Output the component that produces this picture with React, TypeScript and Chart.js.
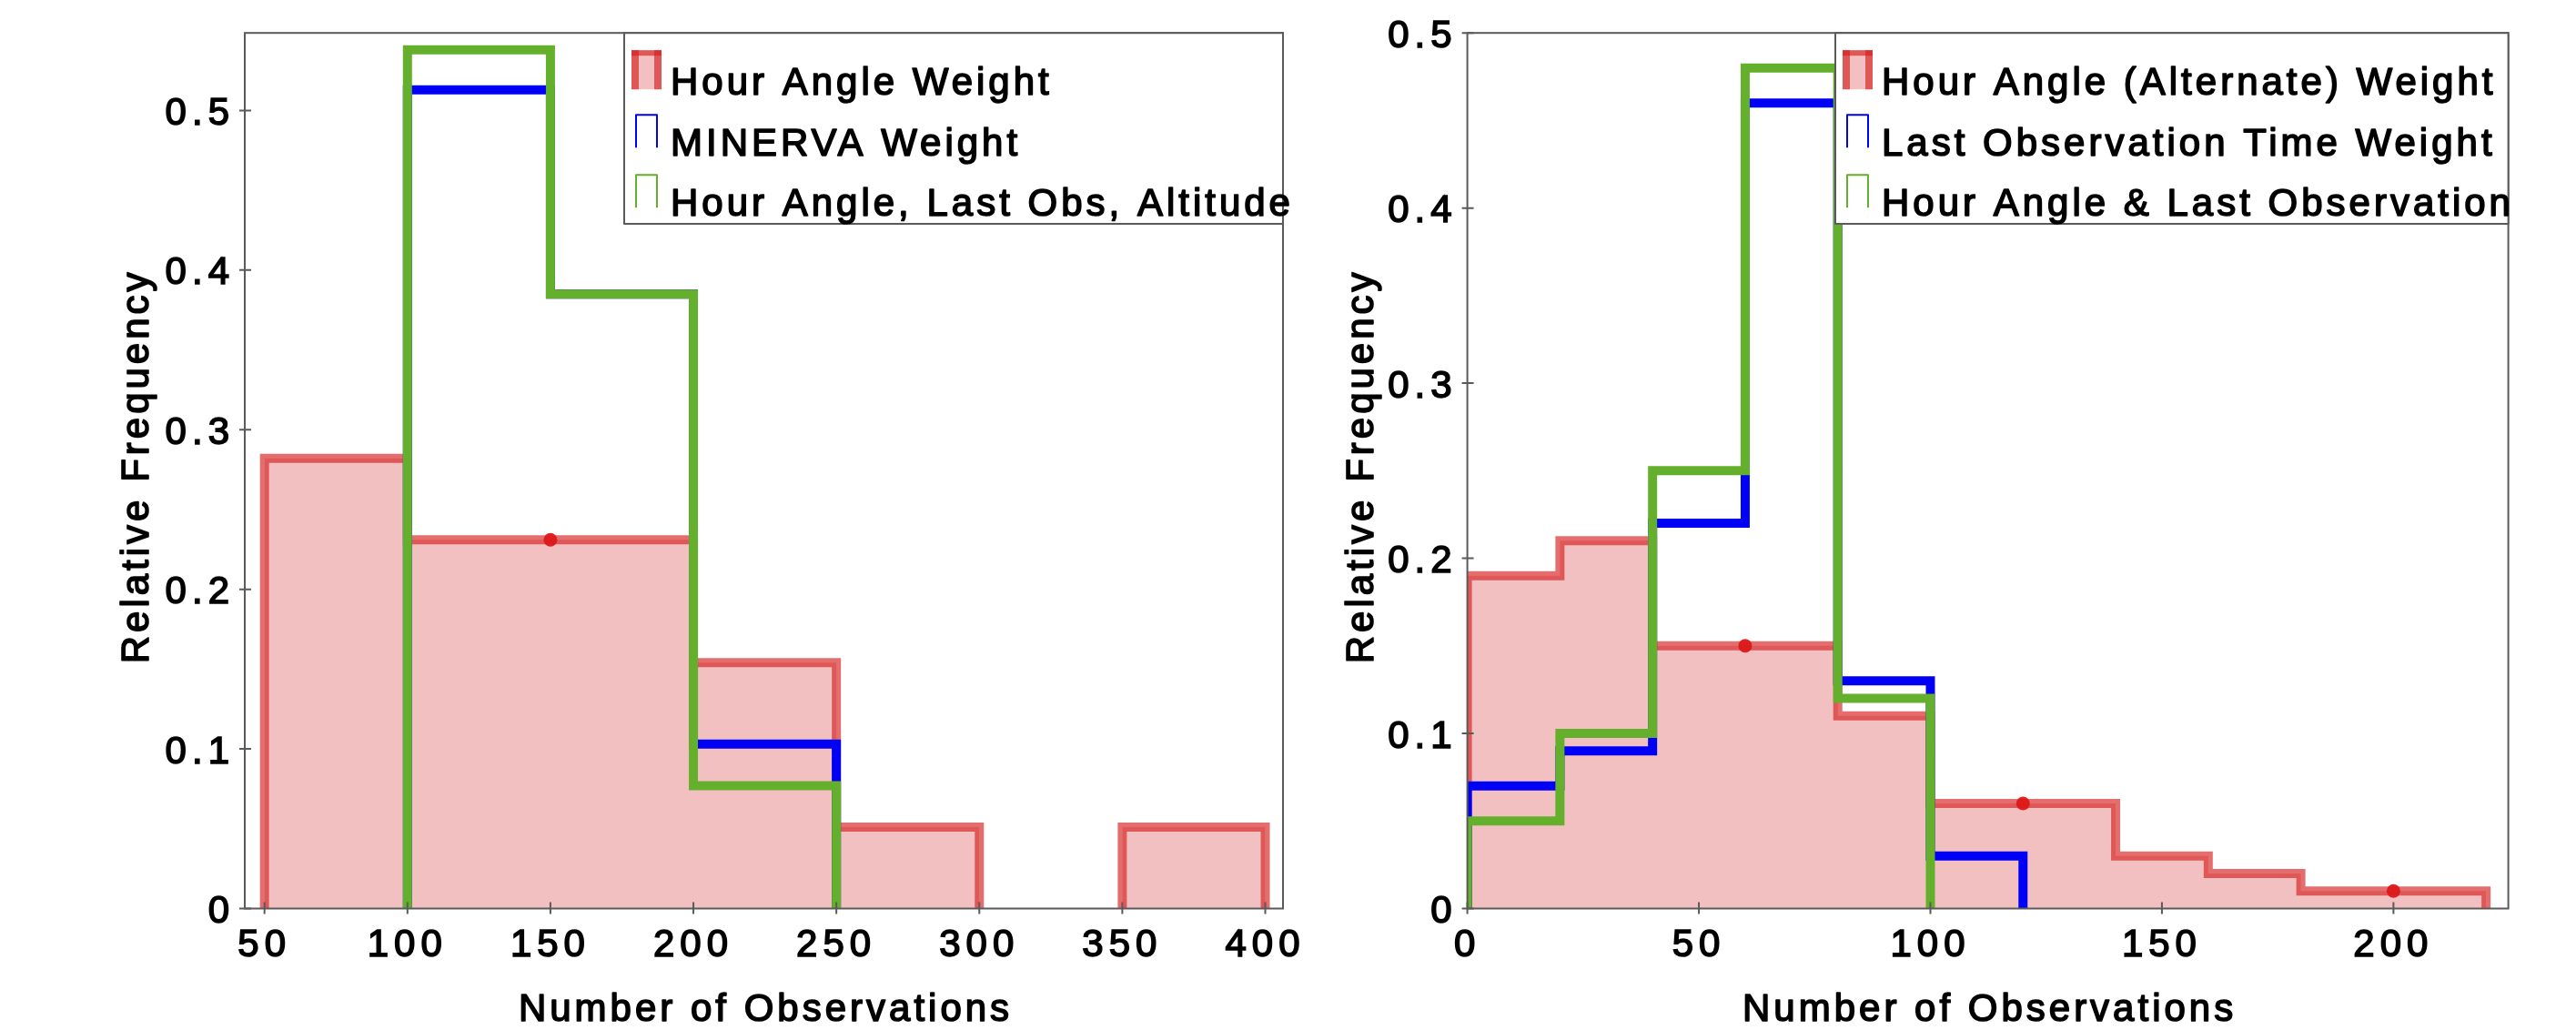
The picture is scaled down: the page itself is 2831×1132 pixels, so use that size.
import { useEffect, useRef } from 'react';
import { Chart, registerables } from 'chart.js';

Chart.register(...registerables);

const FONT = '"Liberation Sans", Arial, Helvetica, sans-serif';

// ---------- shared text ----------
const X_TITLE = 'Number of Observations';
const Y_TITLE = 'Relative Frequency';

// ---------- left panel data ----------
const LEFT_X_TICKS = [50, 100, 150, 200, 250, 300, 350, 400];
const LEFT_Y_TICKS = [0, 0.1, 0.2, 0.3, 0.4, 0.5];
const LEFT_HA_EDGES = [50, 100, 150, 200, 250, 300, 350, 400];
const LEFT_HA_VALUES = [0.282, 0.231, 0.231, 0.154, 0.051, 0, 0.051];
const LEFT_MINERVA_EDGES = [100, 150, 200, 250];
const LEFT_MINERVA_VALUES = [0.513, 0.385, 0.103];
const LEFT_COMBO_EDGES = [100, 150, 200, 250];
const LEFT_COMBO_VALUES = [0.538, 0.385, 0.077];
const LEFT_MARKER_X = [150];
const LEFT_MARKER_Y = [0.231];
const LEFT_LEGEND = ['Hour Angle Weight', 'MINERVA Weight', 'Hour Angle, Last Obs, Altitude'];

// ---------- right panel data ----------
const RIGHT_X_TICKS = [0, 50, 100, 150, 200];
const RIGHT_Y_TICKS = [0, 0.1, 0.2, 0.3, 0.4, 0.5];
const RIGHT_HA_EDGES = [0, 20, 40, 60, 80, 100, 120, 140, 160, 180, 200, 220];
const RIGHT_HA_VALUES = [0.19, 0.21, 0.15, 0.15, 0.11, 0.06, 0.06, 0.03, 0.02, 0.01, 0.01];
const RIGHT_LAST_EDGES = [0, 20, 40, 60, 80, 100, 120];
const RIGHT_LAST_VALUES = [0.07, 0.09, 0.22, 0.46, 0.13, 0.03];
const RIGHT_COMBO_EDGES = [0, 20, 40, 60, 80, 100];
const RIGHT_COMBO_VALUES = [0.05, 0.1, 0.25, 0.48, 0.12];
const RIGHT_MARKER_X = [60, 120, 200];
const RIGHT_MARKER_Y = [0.15, 0.06, 0.01];
const RIGHT_LEGEND = ['Hour Angle (Alternate) Weight', 'Last Observation Time Weight', 'Hour Angle & Last Observation'];

// ---------- styles ----------
const RED_LINE = 'rgba(212,28,28,0.64)';
const RED_FILL = 'rgba(210,30,30,0.28)';
const MARKER = 'rgba(220,25,25,0.95)';
const BLUE = '#0000f5';
const GREEN = '#64af2b';
const AXIS = '#5a5a5a';
const TEXT_STROKE = 1.6;

type Panel = {
  canvasLeft: number; width: number; height: number;
  plotLeft: number; plotRight: number; plotTop: number; plotBottom: number;
  xMin: number; xMax: number; yMax: number;
  xTicks: number[]; yTicks: number[];
  haEdges: number[]; haValues: number[];
  secEdges: number[]; secValues: number[];
  comboEdges: number[]; comboValues: number[];
  markerX: number[]; markerY: number[];
  legend: string[];
  legendLeft: number; legendBottom: number;
  yTitleX: number;
};

const LEFT_PANEL: Panel = {
  canvasLeft: 0, width: 1450, height: 1132,
  plotLeft: 269, plotRight: 1410, plotTop: 32, plotBottom: 998.5,
  xMin: 43.1, xMax: 406.2, yMax: 0.5486,
  xTicks: LEFT_X_TICKS, yTicks: LEFT_Y_TICKS,
  haEdges: LEFT_HA_EDGES, haValues: LEFT_HA_VALUES,
  secEdges: LEFT_MINERVA_EDGES, secValues: LEFT_MINERVA_VALUES,
  comboEdges: LEFT_COMBO_EDGES, comboValues: LEFT_COMBO_VALUES,
  markerX: LEFT_MARKER_X, markerY: LEFT_MARKER_Y,
  legend: LEFT_LEGEND,
  legendLeft: 686, legendBottom: 246,
  yTitleX: 163,
};

const RIGHT_PANEL: Panel = {
  canvasLeft: 1440, width: 1391, height: 1132,
  plotLeft: 172.6, plotRight: 1316.6, plotTop: 33, plotBottom: 998.5,
  xMin: 0, xMax: 224.8, yMax: 0.5,
  xTicks: RIGHT_X_TICKS, yTicks: RIGHT_Y_TICKS,
  haEdges: RIGHT_HA_EDGES, haValues: RIGHT_HA_VALUES,
  secEdges: RIGHT_LAST_EDGES, secValues: RIGHT_LAST_VALUES,
  comboEdges: RIGHT_COMBO_EDGES, comboValues: RIGHT_COMBO_VALUES,
  markerX: RIGHT_MARKER_X, markerY: RIGHT_MARKER_Y,
  legend: RIGHT_LEGEND,
  legendLeft: 577, legendBottom: 246,
  yTitleX: 69,
};

function histPoints(edges: number[], values: number[]) {
  const pts: { x: number; y: number }[] = [{ x: edges[0], y: 0 }];
  values.forEach((v, i) => {
    pts.push({ x: edges[i], y: v });
    pts.push({ x: edges[i + 1], y: v });
  });
  pts.push({ x: edges[edges.length - 1], y: 0 });
  return pts;
}

const hideBaseline = {
  borderColor: (c: any) =>
    c.p0.parsed.y === 0 && c.p1.parsed.y === 0 ? 'rgba(0,0,0,0)' : undefined,
};

function boldText(ctx: CanvasRenderingContext2D, text: string, x: number, y: number) {
  ctx.strokeStyle = '#000';
  ctx.lineWidth = TEXT_STROKE;
  ctx.lineJoin = 'round';
  ctx.strokeText(text, x, y);
  ctx.fillText(text, x, y);
}

function makeDecor(p: Panel) {
  return {
    id: 'decor',
    beforeDraw(chart: any) {
      chart.ctx.letterSpacing = '6px';
    },
    afterDatasetsDraw(chart: any) {
      const ctx = chart.ctx;
      const a = chart.chartArea;
      const xs = chart.scales.x;
      const ys = chart.scales.y;
      ctx.save();
      ctx.strokeStyle = AXIS;
      ctx.lineWidth = 2;
      ctx.strokeRect(a.left, a.top, a.right - a.left, a.bottom - a.top);
      ctx.beginPath();
      for (const v of p.xTicks) {
        const px = xs.getPixelForValue(v);
        ctx.moveTo(px, a.bottom - 7);
        ctx.lineTo(px, a.bottom + 6);
      }
      for (const v of p.yTicks) {
        const py = ys.getPixelForValue(v);
        ctx.moveTo(a.left - 6, py);
        ctx.lineTo(a.left + 7, py);
      }
      ctx.stroke();
      ctx.restore();
    },
    afterDraw(chart: any) {
      const ctx = chart.ctx;
      const a = chart.chartArea;
      ctx.save();
      ctx.letterSpacing = '4px';
      ctx.font = `42px ${FONT}`;
      ctx.fillStyle = '#000';
      ctx.textBaseline = 'alphabetic';
      // axis titles
      ctx.textAlign = 'center';
      boldText(ctx, X_TITLE, (a.left + a.right) / 2 + 2, 1122);
      ctx.save();
      ctx.translate(p.yTitleX, (a.top + a.bottom) / 2 - 3);
      ctx.rotate(-Math.PI / 2);
      boldText(ctx, Y_TITLE, 2, 0);
      ctx.restore();
      // legend box
      const bx = p.legendLeft;
      const by = a.top;
      const bw = a.right - bx;
      const bh = p.legendBottom - a.top;
      ctx.fillStyle = '#fff';
      ctx.fillRect(bx, by, bw, bh);
      ctx.strokeStyle = AXIS;
      ctx.lineWidth = 2;
      ctx.strokeRect(bx, by, bw, bh);
      const rowBase = [68, 135, 201];
      p.legend.forEach((label, i) => {
        const base = by + rowBase[i];
        if (i === 0) {
          const x0 = bx + 8, x1 = bx + 41, t = base - 49, b = base - 6;
          ctx.fillStyle = RED_FILL;
          ctx.fillRect(x0, t, x1 - x0, b - t);
          ctx.fillStyle = RED_LINE;
          ctx.fillRect(x0, t, 8, b - t);
          ctx.fillRect(x1 - 8, t, 8, b - t);
          ctx.fillRect(x0, t, x1 - x0, 6);
        } else {
          const x0 = bx + 13, x1 = bx + 36, t = base - 45, b = base - 9;
          ctx.strokeStyle = i === 1 ? BLUE : GREEN;
          ctx.lineWidth = 2;
          ctx.beginPath();
          ctx.moveTo(x0, b);
          ctx.lineTo(x0, t);
          ctx.lineTo(x1, t);
          ctx.lineTo(x1, b);
          ctx.stroke();
        }
        ctx.fillStyle = '#000';
        ctx.textAlign = 'left';
        boldText(ctx, label, bx + 51, base);
      });
      ctx.restore();
      ctx.letterSpacing = '0px';
    },
  };
}

function build(canvas: HTMLCanvasElement, p: Panel) {
  const lineBase = {
    borderWidth: 10,
    pointRadius: 0,
    pointHoverRadius: 0,
    borderJoinStyle: 'miter',
    borderCapStyle: 'butt',
    clip: 0,
    segment: hideBaseline,
  };
  return new Chart(canvas, {
    type: 'line',
    data: {
      datasets: [
        { ...lineBase, label: p.legend[2], data: histPoints(p.comboEdges, p.comboValues), borderColor: GREEN, fill: false, order: 0 } as any,
        { ...lineBase, label: p.legend[1], data: histPoints(p.secEdges, p.secValues), borderColor: BLUE, fill: false, order: 1 } as any,
        {
          label: 'markers',
          data: p.markerX.map((x, i) => ({ x, y: p.markerY[i] })),
          showLine: false,
          pointRadius: 7.5,
          pointHoverRadius: 7.5,
          pointBackgroundColor: MARKER,
          pointBorderColor: MARKER,
          pointBorderWidth: 0,
          order: 2,
          clip: 0,
        } as any,
        { ...lineBase, label: p.legend[0], data: histPoints(p.haEdges, p.haValues), borderColor: RED_LINE, backgroundColor: RED_FILL, fill: 'origin', order: 3 } as any,
      ],
    },
    options: {
      responsive: false,
      devicePixelRatio: 1,
      animation: false,
      events: [],
      layout: {
        padding: { left: 0, top: p.plotTop, right: p.width - p.plotRight, bottom: 0 },
      },
      plugins: { legend: { display: false }, tooltip: { enabled: false }, title: { display: false } },
      scales: {
        x: {
          type: 'linear',
          min: p.xMin,
          max: p.xMax,
          afterBuildTicks: (s: any) => { s.ticks = p.xTicks.map((v) => ({ value: v })); },
          afterFit: (s: any) => { s.height = p.height - p.plotBottom; },
          grid: { display: false, drawTicks: false },
          border: { display: false },
          ticks: {
            font: { family: FONT, size: 42 },
            color: '#000',
            textStrokeColor: '#000',
            textStrokeWidth: TEXT_STROKE,
            padding: 16,
            maxRotation: 0,
            minRotation: 0,
            autoSkip: false,
            callback: (v: any) => String(v),
          },
        },
        y: {
          type: 'linear',
          min: 0,
          max: p.yMax,
          afterBuildTicks: (s: any) => { s.ticks = p.yTicks.map((v) => ({ value: v })); },
          afterFit: (s: any) => { s.width = p.plotLeft; },
          grid: { display: false, drawTicks: false },
          border: { display: false },
          ticks: {
            font: { family: FONT, size: 42 },
            color: '#000',
            textStrokeColor: '#000',
            textStrokeWidth: TEXT_STROKE,
            padding: 11,
            labelOffset: 4,
            autoSkip: false,
            callback: (v: any) => (v === 0 ? '0' : Number(v).toFixed(1)),
          },
        },
      },
    } as any,
    plugins: [makeDecor(p) as any],
  });
}

export default function App() {
  const leftRef = useRef<HTMLCanvasElement>(null);
  const rightRef = useRef<HTMLCanvasElement>(null);
  useEffect(() => {
    const charts = [build(leftRef.current!, LEFT_PANEL), build(rightRef.current!, RIGHT_PANEL)];
    return () => charts.forEach((c) => c.destroy());
  }, []);
  return (
    <div style={{ position: 'absolute', left: 0, top: 0, width: 2831, height: 1132, background: '#fff', overflow: 'hidden' }}>
      <canvas
        ref={leftRef}
        width={LEFT_PANEL.width}
        height={LEFT_PANEL.height}
        style={{ position: 'absolute', left: LEFT_PANEL.canvasLeft, top: 0, width: LEFT_PANEL.width, height: LEFT_PANEL.height }}
      />
      <canvas
        ref={rightRef}
        width={RIGHT_PANEL.width}
        height={RIGHT_PANEL.height}
        style={{ position: 'absolute', left: RIGHT_PANEL.canvasLeft, top: 0, width: RIGHT_PANEL.width, height: RIGHT_PANEL.height }}
      />
    </div>
  );
}
